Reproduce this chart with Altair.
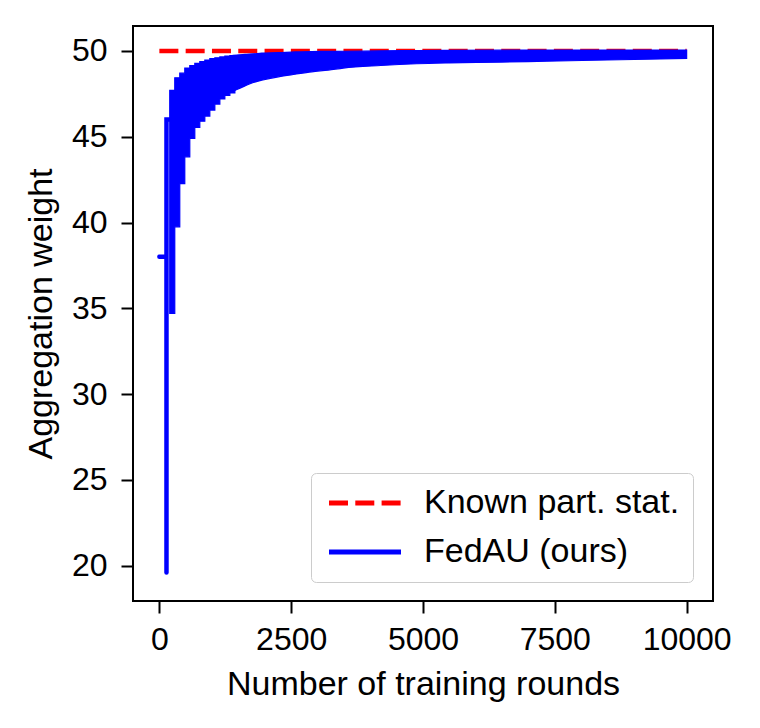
import altair as alt
import pandas as pd

# ---- data ----
SERIES = ["Known part. stat.", "FedAU (ours)"]

known_rounds = [0, 10000]
known_weight = [50.0, 50.0]

# initial part of FedAU (before first participation + first spike)
fedau_line_rounds = [0, 135, 135, 135, 200]
fedau_line_weight = [38.0, 38.0, 19.6, 46.0, 46.0]

# early oscillation blocks (step-wise envelope)
block_rounds = [197, 292, 387, 482, 577, 672, 767, 862, 957, 1052, 1147, 1242, 1337, 1432]
block_lower = [34.7, 39.75, 42.27, 43.83, 44.9, 45.54, 45.9, 46.2, 46.55, 46.9, 47.2, 47.4, 47.55, 47.55]
block_upper = [47.7, 48.43, 48.7, 49.0, 49.15, 49.27, 49.38, 49.47, 49.55, 49.6, 49.65, 49.7, 49.73, 49.73]

# later oscillation band (envelope)
tail_rounds = [1400, 1624, 1782, 1941, 2257, 2573, 2890, 3205, 3490, 4200, 4880, 5500, 6500, 7350, 8500, 10000]
tail_lower = [47.65, 47.96, 48.16, 48.29, 48.49, 48.64, 48.78, 48.88, 49.0, 49.15, 49.25, 49.3, 49.35, 49.4, 49.47, 49.56]
tail_upper = [49.74, 49.8, 49.83, 49.87, 49.9, 49.94, 49.96, 49.97, 49.98, 50.0, 50.02, 50.03, 50.04, 50.05, 50.05, 50.05]

x_ticks = [0, 2500, 5000, 7500, 10000]
y_ticks = [20, 25, 30, 35, 40, 45, 50]

FONT = "Liberation Sans"
RED = "#ff0000"
BLUE = "#0000ff"

df_known = pd.DataFrame({"round": known_rounds, "weight": known_weight,
                         "series": SERIES[0], "idx": list(range(len(known_rounds)))})
df_line = pd.DataFrame({"round": fedau_line_rounds, "weight": fedau_line_weight,
                        "series": SERIES[1], "idx": list(range(len(fedau_line_rounds)))})
df_block = pd.DataFrame({"round": block_rounds, "lower": block_lower, "upper": block_upper})
df_tail = pd.DataFrame({"round": tail_rounds, "lower": tail_lower, "upper": tail_upper})

x_scale = alt.Scale(domain=[-500, 10500], nice=False, zero=False)
y_scale = alt.Scale(domain=[17.95, 51.45], nice=False, zero=False)

x_axis = alt.Axis(values=x_ticks, format="d", title="Number of training rounds",
                  labelPadding=11, titlePadding=12)
y_axis = alt.Axis(values=y_ticks, format="d", title="Aggregation weight",
                  labelPadding=14, titlePadding=13)

legend = alt.Legend(orient="none", legendX=178, legendY=447, direction="vertical",
                    title=None, symbolType="M-1,0H5", symbolSize=576,
                    symbolStrokeWidth=5, labelFont=FONT, labelFontSize=34,
                    labelColor="black", labelOffset=66, rowPadding=15,
                    padding=13, strokeColor="#cccccc", cornerRadius=5,
                    fillColor="white", labelLimit=0)

color = alt.Color("series:N", scale=alt.Scale(domain=SERIES, range=[RED, BLUE]), legend=legend)
dash = alt.StrokeDash("series:N", scale=alt.Scale(domain=SERIES, range=[[19, 7.3], [1, 0]]), legend=legend)

known = alt.Chart(df_known).mark_line(strokeWidth=4.5, strokeCap="butt").encode(
    x=alt.X("round:Q", scale=x_scale, axis=x_axis),
    y=alt.Y("weight:Q", scale=y_scale, axis=y_axis),
    color=color, strokeDash=dash, order="idx:Q")

blocks = alt.Chart(df_block).mark_area(color=BLUE, stroke=BLUE, strokeWidth=1.2,
                                       interpolate="step-after", opacity=1).encode(
    x=alt.X("round:Q", scale=x_scale),
    y=alt.Y("lower:Q", scale=y_scale),
    y2="upper:Q")

tail = alt.Chart(df_tail).mark_area(color=BLUE, stroke=BLUE, strokeWidth=1.2,
                                    interpolate="monotone", opacity=1).encode(
    x=alt.X("round:Q", scale=x_scale),
    y=alt.Y("lower:Q", scale=y_scale),
    y2="upper:Q")

fedau = alt.Chart(df_line).mark_line(strokeWidth=4.5, strokeCap="round", strokeJoin="miter").encode(
    x=alt.X("round:Q", scale=x_scale),
    y=alt.Y("weight:Q", scale=y_scale),
    color=color, strokeDash=dash, order="idx:Q")

chart = alt.layer(known, blocks, tail, fedau).properties(
    width=580, height=575,
    autosize=alt.AutoSizeParams(type="none"),
    padding={"left": 125, "top": 18, "right": 20, "bottom": 115},
    background="white",
).configure_view(
    stroke="black", strokeWidth=2
).configure_axis(
    domain=False, grid=False, tickColor="black", tickWidth=2, tickSize=12,
    labelFont=FONT, labelFontSize=32, labelColor="black",
    titleFont=FONT, titleFontSize=34, titleFontWeight="normal", titleColor="black",
)

chart.save("out.html", embed_options={"renderer": "svg", "actions": False})
